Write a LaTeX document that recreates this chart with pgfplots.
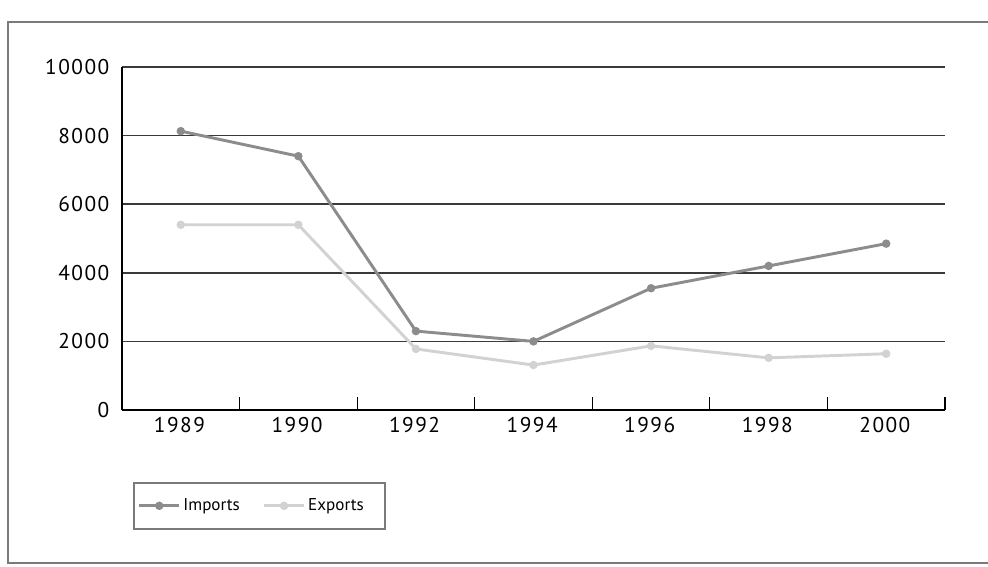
\documentclass[border=0pt]{standalone}
\usepackage{fontspec}
\setmainfont{PT Sans}
\newfontfamily\tickfont[LetterSpace=7]{PT Sans}
\usepackage{pgfplots}
\pgfplotsset{compat=1.18}
\definecolor{frame}{HTML}{7A7A7A}
\definecolor{impc}{HTML}{8C8C8C}
\definecolor{expc}{HTML}{D2D2D2}
\definecolor{gridc}{HTML}{3A3A3A}
\begin{document}
\begin{tikzpicture}
\useasboundingbox (0,0) rectangle (741pt,425.25pt);
\draw[frame, line width=1.5pt] (745pt,408.75pt) -- (6pt,408.75pt) -- (6pt,3pt) -- (745pt,3pt);
\begin{axis}[
  at={(91.5pt,117.75pt)}, anchor=south west,
  scale only axis, width=617.25pt, height=257.25pt,
  xmin=-0.5, xmax=6.5, ymin=0, ymax=10000,
  axis x line=bottom, axis y line=left,
  axis line style={-, black, line width=1pt},
  xtick={0,...,6},
  xticklabels={1989,1990,1992,1994,1996,1998,2000},
  minor xtick={0.5,1.5,...,6.5},
  ytick={0,2000,...,10000},
  major tick length=0pt,
  minor tick length=10pt,
  tick align=inside,
  minor tick style={black, line width=0.8pt},
  ymajorgrids, major grid style={gridc, line width=1.3pt},
  scaled y ticks=false,
  /pgf/number format/assume math mode=true,
  /pgf/number format/set thousands separator={},
  tick label style={font=\tickfont\fontsize{16}{19}\selectfont, black},
  xticklabel style={yshift=-2pt, xshift=-1pt},
  yticklabel style={xshift=-6pt},
  legend style={at={(0.0134,-0.21)}, anchor=north west, legend columns=2,
    draw=frame, line width=1.2pt, font=\fontsize{12.8}{15}\selectfont,
    inner xsep=3pt, inner ysep=10pt,
    /tikz/every even column/.append style={column sep=15pt}},
  legend cell align=left,
  legend image code/.code={\draw[mark repeat=2, mark phase=2, #1] plot coordinates {(0pt,0pt) (15pt,0pt) (30pt,0pt)};},
]
\addplot[impc, line width=2.2pt, mark=*, mark size=2pt, mark options={fill=impc}] coordinates {
(0,8130) (1,7400) (2,2300) (3,2000) (4,3550) (5,4200) (6,4850)};
\addlegendentry{Imports}
\addplot[expc, line width=2.2pt, mark=*, mark size=2pt, mark options={fill=expc}] coordinates {
(0,5400) (1,5400) (2,1780) (3,1310) (4,1870) (5,1520) (6,1640)};
\addlegendentry{Exports\rule{11pt}{0pt}}
\end{axis}
\end{tikzpicture}
\end{document}
